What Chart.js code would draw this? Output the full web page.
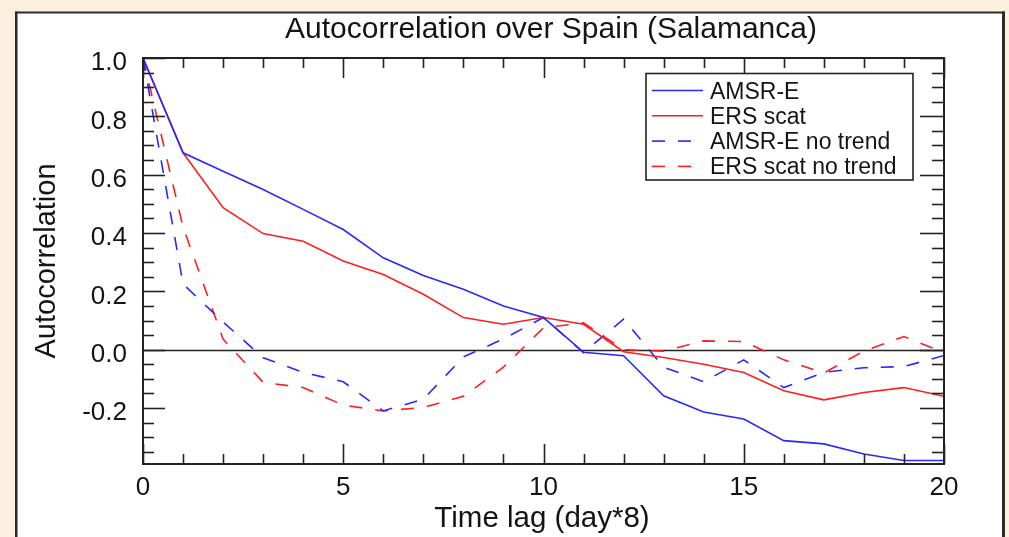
<!DOCTYPE html>
<html><head><meta charset="utf-8">
<script src="https://cdn.jsdelivr.net/npm/chart.js@4.4.1/dist/chart.umd.min.js"></script>
<style>html,body{margin:0;padding:0;background:#fcf1de;overflow:hidden}canvas{display:block}</style>
</head><body>
<canvas id="c" width="1009" height="537"></canvas>
<script>
// ---- data ----
const lags = [0,1,2,3,4,5,6,7,8,9,10,11,12,13,14,15,16,17,18,19,20];
const amsr = [1.0,0.675,0.612,0.549,0.481,0.412,0.315,0.254,0.207,0.15,0.11,-0.009,-0.021,-0.158,-0.214,-0.238,-0.312,-0.323,-0.358,-0.38,-0.38];
const ers = [1.0,0.675,0.487,0.398,0.372,0.304,0.258,0.19,0.11,0.087,0.11,0.087,-0.007,-0.027,-0.05,-0.078,-0.141,-0.172,-0.147,-0.13,-0.16];
const amsrNoTrend = [1.0,0.225,0.095,-0.028,-0.078,-0.11,-0.21,-0.17,-0.025,0.037,0.11,-0.01,0.105,-0.06,-0.11,-0.035,-0.13,-0.078,-0.062,-0.058,-0.02];
const ersNoTrend = [1.0,0.42,0.036,-0.112,-0.13,-0.19,-0.21,-0.198,-0.16,-0.06,0.075,0.092,0.0,-0.005,0.03,0.028,-0.035,-0.08,-0.005,0.045,-0.01];
const seriesNames = ['AMSR-E','ERS scat','AMSR-E no trend','ERS scat no trend'];
const xTickValues = [0,5,10,15,20];
const yTickValues = [-0.2,0.0,0.2,0.4,0.6,0.8,1.0];
const titleText = 'Autocorrelation over Spain (Salamanca)';
const xTitle = 'Time lag (day*8)';
const yTitle = 'Autocorrelation';

const FONT = '"Liberation Sans", Arial, Helvetica, sans-serif';
const BLUE = 'rgb(40,40,255)';
const RED = 'rgb(255,30,30)';
const INK = '#141414';
const DASH = [13, 13];

function pts(arr){ return lags.map((t,i)=>({x:t, y:arr[i]})); }

function seg(ctx,x1,y1,x2,y2){ ctx.beginPath(); ctx.moveTo(x1,y1); ctx.lineTo(x2,y2); ctx.stroke(); }

const decor = {
  id:'decor',
  beforeDraw(chart){
    const ctx = chart.ctx;
    ctx.save();
    ctx.fillStyle = '#fcf1de'; ctx.fillRect(0,0,chart.width,chart.height);
    ctx.fillStyle = '#ffffff'; ctx.fillRect(17,13,986,chart.height-13);
    ctx.strokeStyle = '#2b2b2b';
    ctx.lineWidth = 2.5; seg(ctx,16.25,11.5,16.25,chart.height);
    ctx.lineWidth = 2; seg(ctx,15,12.5,1005,12.5);
    ctx.lineWidth = 3; seg(ctx,1003.5,11.5,1003.5,chart.height);
    ctx.fillStyle = INK;
    ctx.textAlign = 'center'; ctx.textBaseline = 'alphabetic';
    ctx.font = '30px ' + FONT;
    ctx.fillText(titleText, 551, 38);
    ctx.font = '29.5px ' + FONT;
    ctx.fillText(xTitle, 542, 527);
    ctx.translate(55, 261); ctx.rotate(-Math.PI/2);
    ctx.font = '29px ' + FONT;
    ctx.fillText(yTitle, 0, 0);
    ctx.restore();
  },
  beforeDatasetsDraw(chart){
    const ctx = chart.ctx, a = chart.chartArea, y = chart.scales.y;
    const y0 = Math.round(y.getPixelForValue(0)) + 0.5;
    ctx.save(); ctx.strokeStyle = '#222'; ctx.lineWidth = 1.6;
    seg(ctx, a.left, y0, a.right, y0);
    ctx.restore();
  },
  afterDatasetsDraw(chart){
    const ctx = chart.ctx, a = chart.chartArea, xs = chart.scales.x, ys = chart.scales.y;
    ctx.save();
    ctx.strokeStyle = '#222'; ctx.lineWidth = 2;
    ctx.strokeRect(a.left, a.top, a.right - a.left, a.bottom - a.top);
    ctx.lineWidth = 1.6;
    for (let t = Math.ceil(xs.min); t <= xs.max; t++) {
      const px = Math.round(xs.getPixelForValue(t)) + 0.5;
      const len = (t % 5 === 0) ? 20 : 10;
      seg(ctx, px, a.bottom, px, a.bottom - len);
      seg(ctx, px, a.top, px, a.top + len);
    }
    for (let k = Math.ceil(ys.min / 0.05); k * 0.05 <= ys.max + 1e-9; k++) {
      const py = Math.round(ys.getPixelForValue(k * 0.05)) + 0.5;
      const major = (k % 4 === 0);
      seg(ctx, a.left, py, a.left + (major ? 22 : 11), py);
      seg(ctx, a.right, py, a.right - (major ? 24 : 12), py);
    }
    ctx.restore();
  },
  afterDraw(chart){
    const ctx = chart.ctx;
    ctx.save();
    ctx.fillStyle = '#fff';
    ctx.fillRect(646, 73, 267, 107);
    ctx.strokeStyle = '#222'; ctx.lineWidth = 1.6;
    ctx.strokeRect(646, 73.5, 267, 106.5);
    ctx.font = '23px ' + FONT; ctx.textAlign = 'left'; ctx.textBaseline = 'alphabetic';
    chart.data.datasets.forEach((ds, i) => {
      const ry = 90.5 + 25.3 * i;
      ctx.strokeStyle = ds.borderColor; ctx.lineWidth = ds.borderWidth;
      ctx.setLineDash(ds.borderDash || []);
      seg(ctx, 652, ry, 703, ry);
      ctx.setLineDash([]);
      ctx.fillStyle = INK;
      ctx.fillText(ds.label, 710, ry + 8);
    });
    ctx.restore();
  }
};

new Chart(document.getElementById('c'), {
  type: 'line',
  data: {
    datasets: [
      {label: seriesNames[0], data: pts(amsr), borderColor: BLUE, borderWidth: 1.6},
      {label: seriesNames[1], data: pts(ers), borderColor: RED, borderWidth: 1.6},
      {label: seriesNames[2], data: pts(amsrNoTrend), borderColor: BLUE, borderWidth: 1.6, borderDash: DASH},
      {label: seriesNames[3], data: pts(ersNoTrend), borderColor: RED, borderWidth: 1.6, borderDash: DASH}
    ]
  },
  options: {
    responsive: false, animation: false, devicePixelRatio: 1,
    elements: {point: {radius: 0}, line: {tension: 0, fill: false}},
    layout: {padding: {left: 0, top: 58, right: 65, bottom: 0}},
    plugins: {legend: {display: false}, tooltip: {enabled: false}, title: {display: false}},
    scales: {
      x: {
        type: 'linear', min: 0, max: 20,
        afterFit(s){ s.height = 73; },
        afterBuildTicks(s){ s.ticks = xTickValues.map(v => ({value: v})); },
        grid: {display: false, drawTicks: false}, border: {display: false},
        ticks: {font: {family: FONT, size: 26, lineHeight: 1}, color: INK, padding: 11, maxRotation: 0, autoSkip: false,
                callback: v => String(v)}
      },
      y: {
        type: 'linear', min: -0.392, max: 1.0,
        afterFit(s){ s.width = 143; },
        afterBuildTicks(s){ s.ticks = yTickValues.map(v => ({value: v})); },
        grid: {display: false, drawTicks: false}, border: {display: false},
        ticks: {font: {family: FONT, size: 26}, color: INK, padding: 16, labelOffset: 5, autoSkip: false,
                callback: v => Number(v).toFixed(1)}
      }
    }
  },
  plugins: [decor]
});
</script>
</body></html>
